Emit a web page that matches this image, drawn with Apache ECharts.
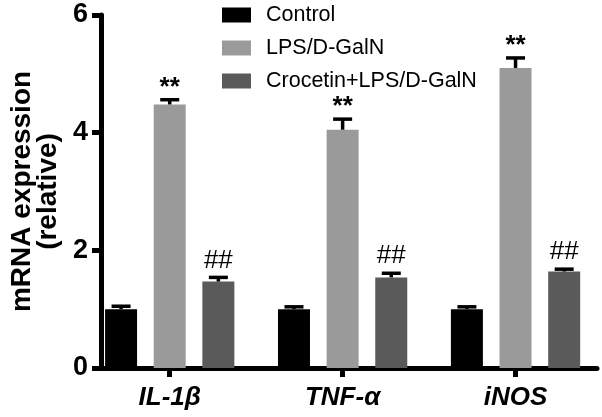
<!DOCTYPE html>
<html>
<head>
<meta charset="utf-8">
<script src="https://cdn.jsdelivr.net/npm/echarts@6/dist/echarts.min.js"></script>
<style>html,body{margin:0;padding:0;background:#fff;}#c{width:602px;height:417px;}</style>
</head>
<body>
<div id="c"></div>
<script>
const categories = ['IL-1β', 'TNF-α', 'iNOS'];
const seriesNames = ['Control', 'LPS/D-GalN', 'Crocetin+LPS/D-GalN'];
const controlVals = [1.0, 1.0, 1.0];
const controlErr = [0.05, 0.04, 0.04];
const lpsVals = [4.48, 4.05, 5.10];
const lpsErr = [0.08, 0.18, 0.17];
const crocVals = [1.47, 1.54, 1.64];
const crocErr = [0.07, 0.07, 0.04];
const lpsMarks = ['**', '**', '**'];
const crocMarks = ['##', '##', '##'];
const yMin = 0, yMax = 6, yInterval = 2;

const FONT = 'Arial, "Liberation Sans", Helvetica, sans-serif';
const colors = ['#000000', '#9a9a9a', '#5a5a5a'];
const BAR_W = 32;
const BAR_GAP = 0.52;
const STEP = BAR_W * (1 + BAR_GAP);

function errSeries(vals, errs, marks, slot, bold) {
  return {
    type: 'custom',
    xAxisIndex: 1, yAxisIndex: 1,
    silent: true,
    z: 5,
    data: vals.map((v, i) => [i, v, errs[i]]),
    renderItem: function (params, api) {
      const i = api.value(0), v = api.value(1), e = api.value(2);
      const b = api.coord([i, v]);
      const t = api.coord([i, v + e]);
      const x = b[0] + slot * STEP;
      const children = [
        { type: 'line', shape: { x1: x, y1: b[1], x2: x, y2: t[1] }, style: { stroke: '#000', lineWidth: 3.5 } },
        { type: 'line', shape: { x1: x - 9.5, y1: t[1], x2: x + 9.5, y2: t[1] }, style: { stroke: '#000', lineWidth: 3.5 } }
      ];
      const m = marks ? marks[params.dataIndex] : null;
      if (m) {
        children.push({
          type: 'text',
          style: {
            x: x, y: t[1] + (bold ? 1 : -4),
            text: m,
            fill: '#000',
            font: (bold ? 'bold ' : '') + '26px ' + FONT,
            align: 'center', verticalAlign: 'bottom'
          }
        });
      }
      return { type: 'group', children: children };
    }
  };
}

function barSeries(name, vals, color) {
  return {
    name: name, type: 'bar', xAxisIndex: 1, yAxisIndex: 1,
    data: vals, barWidth: BAR_W, barGap: (BAR_GAP * 100) + '%',
    itemStyle: { color: color }
  };
}

const chart = echarts.init(document.getElementById('c'), null, { renderer: 'canvas' });
chart.setOption({
  animation: false,
  backgroundColor: '#fff',
  textStyle: { fontFamily: FONT },
  legend: {
    data: seriesNames,
    orient: 'vertical',
    left: 222, top: 4,
    padding: 0,
    itemWidth: 29, itemHeight: 15, itemGap: 11,
    icon: 'rect',
    textStyle: { fontSize: 21.5, color: '#000', fontFamily: FONT, padding: [0, 0, 0, 10] }
  },
  grid: [
    { left: 97, top: 15, width: 500, height: 353 },
    { left: 83.25, top: 15, width: 526.5, height: 353 }
  ],
  xAxis: [
    { gridIndex: 0, type: 'value', min: 0, max: 1,
      axisLine: { show: true, lineStyle: { color: '#000', width: 5 } },
      axisTick: { show: false }, axisLabel: { show: false }, splitLine: { show: false } },
    { gridIndex: 1, type: 'category', data: categories,
      axisLine: { show: false },
      axisTick: { show: true, alignWithLabel: true, length: 9, lineStyle: { color: '#000', width: 5 } },
      axisLabel: { margin: 17, fontSize: 26, fontWeight: 'bold', fontStyle: 'italic', color: '#000', fontFamily: FONT },
      splitLine: { show: false } }
  ],
  yAxis: [
    { gridIndex: 0, type: 'value', min: yMin, max: yMax, interval: yInterval,
      name: 'mRNA expression\n(relative)', nameLocation: 'middle', nameGap: 40,
      nameTextStyle: { fontSize: 28, fontWeight: 'bold', color: '#000', lineHeight: 26, fontFamily: FONT },
      axisLine: { show: true, lineStyle: { color: '#000', width: 5 } },
      axisTick: { show: true, length: 9, lineStyle: { color: '#000', width: 5 } },
      axisLabel: { margin: 13, fontSize: 27, fontWeight: 'bold', color: '#000', fontFamily: FONT },
      splitLine: { show: false } },
    { gridIndex: 1, type: 'value', min: yMin, max: yMax, show: false, splitLine: { show: false } }
  ],
  series: [
    barSeries(seriesNames[0], controlVals, colors[0]),
    barSeries(seriesNames[1], lpsVals, colors[1]),
    barSeries(seriesNames[2], crocVals, colors[2]),
    errSeries(controlVals, controlErr, null, -1, false),
    errSeries(lpsVals, lpsErr, lpsMarks, 0, true),
    errSeries(crocVals, crocErr, crocMarks, 1, false)
  ]
});
</script>
</body>
</html>
